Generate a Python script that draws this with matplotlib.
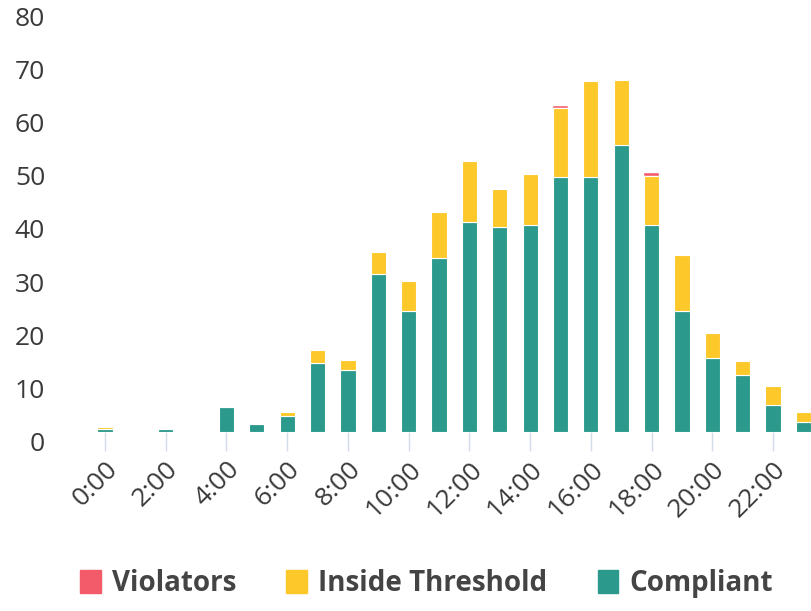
import numpy as np
from matplotlib import pyplot as plt
from matplotlib.patches import Patch

hours = np.arange(24)
hour_labels = ["%d:00" % h for h in range(0, 24, 2)]

compliant = [0.5, 0, 0.6, 0, 4.7, 1.5, 3.0, 13.0, 11.7, 29.8, 22.8, 32.8,
             39.5, 38.6, 39.0, 48.0, 48.0, 53.9, 39.0, 22.8, 13.9, 10.7, 5.1, 1.9]
inside = [0.5, 0, 0, 0, 0, 0, 0.8, 2.4, 1.9, 4.0, 5.6, 8.5,
          11.5, 7.2, 9.6, 13.0, 18.1, 12.4, 9.2, 10.5, 4.7, 2.6, 3.6, 1.9]
violators = [0, 0, 0, 0, 0, 0, 0, 0, 0, 0, 0, 0,
             0, 0, 0, 0.4, 0, 0, 0.5, 0, 0, 0, 0, 0]

c_comp = "#2b9a8c"
c_inside = "#fcc82a"
c_viol = "#f45b6a"

plt.rcParams['font.family'] = ['Open Sans', 'DejaVu Sans']

fig = plt.figure(figsize=(8.11, 6.11), dpi=100)
ax = fig.add_axes([0.107, 0.293, 0.893, 0.696])

comp = np.array(compliant)
ins = np.array(inside)
w = 0.5
ax.bar(hours, comp, width=w, color=c_comp, edgecolor="white", linewidth=0.8)
ax.bar(hours, ins, width=w, bottom=comp, color=c_inside, edgecolor="white", linewidth=0.8)
ax.bar(hours, violators, width=w, bottom=comp + ins, color=c_viol, edgecolor="white", linewidth=0.3)

ax.set_xlim(-0.6, 23.25)
ax.set_ylim(0, 80)
ax.set_yticks(range(0, 81, 10))
ax.set_xticks(range(0, 24, 2))
ax.set_xticklabels(hour_labels, rotation=45, ha="right", rotation_mode="anchor")

for s in ax.spines.values():
    s.set_visible(False)

ax.tick_params(axis="y", length=0, pad=30, labelsize=19, labelcolor="#3a3a3a")
ax.tick_params(axis="x", length=14, width=1, color="#d4dbe8", pad=4,
               labelsize=19, labelcolor="#3a3a3a")
for t in ax.get_yticklabels():
    t.set_verticalalignment("top")

handles = [Patch(color=c_viol, label="Violators"),
           Patch(color=c_inside, label="Inside Threshold"),
           Patch(color=c_comp, label="Compliant")]
leg = fig.legend(handles=handles, loc="center", bbox_to_anchor=(0.526, 0.045),
                 ncol=3, frameon=False, handlelength=0.75, handleheight=0.9,
                 handletextpad=0.4, columnspacing=1.8,
                 prop={"size": 20, "weight": "bold"})
for t in leg.get_texts():
    t.set_color("#444444")

plt.savefig("out.png", dpi=100)
